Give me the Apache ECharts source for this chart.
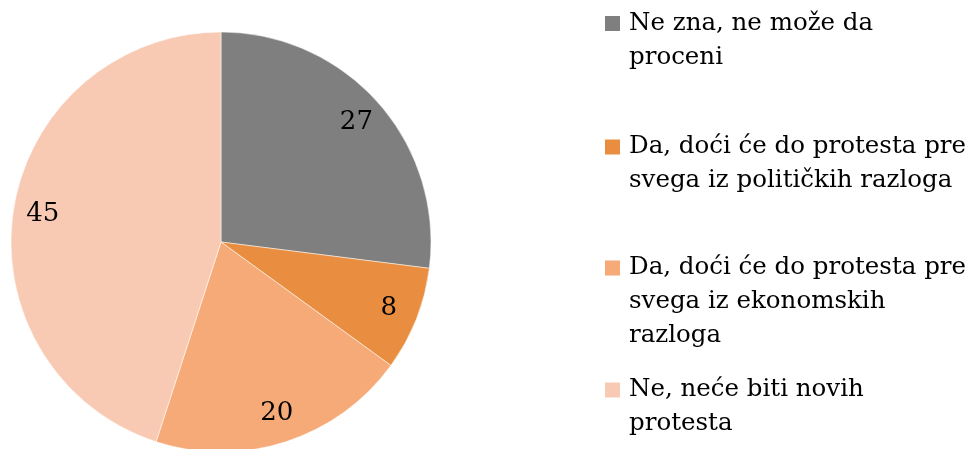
<!DOCTYPE html>
<html><head><meta charset="utf-8">
<script src="https://cdn.jsdelivr.net/npm/echarts@6/dist/echarts.min.js"></script>
<style>html,body{margin:0;padding:0;background:#fff}#c{width:971px;height:449px}</style>
</head><body><div id="c"></div>
<script>
const categories = [
  'Ne zna, ne može da\nproceni',
  'Da, doći će do protesta pre\nsvega iz političkih razloga',
  'Da, doći će do protesta pre\nsvega iz ekonomskih\nrazloga',
  'Ne, neće biti novih\nprotesta'
];
const values = [27, 8, 20, 45];
const colors = ['#7F7F7F', '#E98E41', '#F6AA77', '#F8CAB3'];

const FONT = '"DejaVu Serif", "Liberation Serif", serif';
const LH = 34;
const legendTops = [-27.5, 96, 183, 339];

const data = categories.map((n, i) => ({ name: n, value: values[i], itemStyle: { color: colors[i] } }));

const legends = categories.map((n, i) => {
  const lines = n.split('\n').length;
  return {
    data: [n], orient: 'vertical', left: 603, top: legendTops[i], padding: 0,
    itemWidth: 17, itemHeight: 17, icon: 'rect', selectedMode: false,
    formatter: name => '\n'.repeat(lines - 1) + name,
    textStyle: { fontFamily: FONT, fontSize: 24.5, color: '#000', lineHeight: LH, padding: [0, 0, 0, 3] }
  };
});

const chart = echarts.init(document.getElementById('c'));
chart.setOption({
  animation: false,
  legend: legends,
  series: [{
    type: 'pie', center: [221, 242], radius: 210, startAngle: 90, clockwise: true,
    data: data, label: { show: false }, labelLine: { show: false },
    itemStyle: { borderColor: '#fff', borderWidth: 0.5 }, silent: true
  }, {
    type: 'pie', center: [221, 242], radius: [145, 210], startAngle: 90, clockwise: true,
    data: data.map(d => ({ name: d.name, value: d.value })), silent: true,
    itemStyle: { color: 'rgba(0,0,0,0)' },
    label: { show: true, position: 'inside', formatter: '{c}', fontFamily: FONT, fontSize: 26, color: '#000' },
    labelLine: { show: false }
  }]
});
</script></body></html>
